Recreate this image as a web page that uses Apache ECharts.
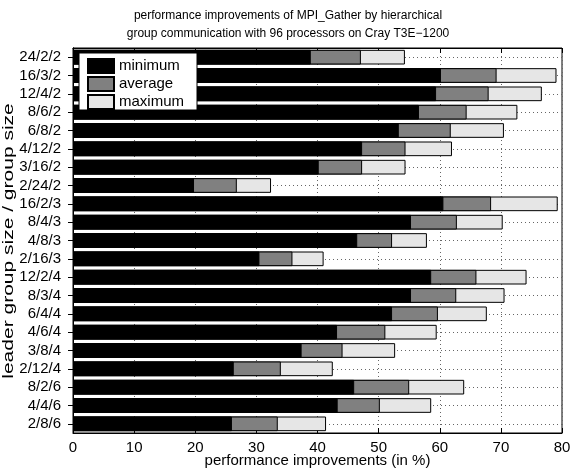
<!DOCTYPE html>
<html>
<head>
<meta charset="utf-8">
<script src="https://cdn.jsdelivr.net/npm/echarts@6/dist/echarts.min.js"></script>
<style>
  html, body { margin: 0; padding: 0; background: #fff; }
  #chart { width: 571px; height: 470px; }
</style>
</head>
<body>
<div id="chart"></div>
<script>
// leader count / leader group size / group size
const configs = ['24/2/2', '16/3/2', '12/4/2', '8/6/2', '6/8/2', '4/12/2', '3/16/2', '2/24/2',
  '16/2/3', '8/4/3', '4/8/3', '2/16/3', '12/2/4', '8/3/4', '6/4/4', '4/6/4', '3/8/4',
  '2/12/4', '8/2/6', '4/4/6', '2/8/6'];

// performance improvements in percent
const minimum = [38.9, 60.2, 59.4, 56.6, 53.3, 47.3, 40.2, 19.8, 60.6, 55.3, 46.5, 30.5,
  58.6, 55.3, 52.2, 43.2, 37.4, 26.3, 46.0, 43.3, 26.0];
const average = [47.1, 69.3, 68.0, 64.4, 61.8, 54.4, 47.3, 26.8, 68.4, 62.8, 52.2, 35.9,
  66.0, 62.7, 59.7, 51.1, 44.1, 34.0, 55.0, 50.2, 33.5];
const maximum = [54.3, 79.1, 76.7, 72.7, 70.5, 62.0, 54.4, 32.4, 79.3, 70.3, 57.9, 41.0,
  74.2, 70.6, 67.7, 59.5, 52.7, 42.5, 64.0, 58.6, 41.4];

const xTicks = { min: 0, max: 80, interval: 10 };

const FONT = '"Liberation Sans", Arial, Helvetica, sans-serif';
const dotted = { color: '#666', width: 1, type: [1, 3] };

const chart = echarts.init(document.getElementById('chart'), null, { renderer: 'canvas' });

function barSeries(name, values, color, extra) {
  return Object.assign({
    name: name,
    type: 'bar',
    data: values,
    barGap: '-100%',
    barCategoryGap: '20%',
    z: 2,
    itemStyle: { color: color, borderColor: '#000', borderWidth: 1 },
    emphasis: { disabled: true },
    animation: false
  }, extra || {});
}

// dotted horizontal guide through each category centre, kept behind the bars
const rowGuides = {
  silent: true,
  symbol: ['none', 'none'],
  z: 1,
  label: { show: false },
  lineStyle: dotted,
  emphasis: { disabled: true },
  animation: false,
  data: configs.map(c => ({ yAxis: c }))
};

chart.setOption({
  animation: false,
  textStyle: { fontFamily: FONT },
  title: {
    text: 'performance improvements of MPI_Gather by hierarchical\ngroup communication with 96 processors on Cray T3E\u22121200',
    left: 283,
    textAlign: 'center',
    top: 2,
    textStyle: { fontFamily: FONT, fontSize: 12, fontWeight: 'normal', color: '#000', lineHeight: 18 }
  },
  legend: {
    orient: 'vertical',
    left: 79,
    top: 53,
    data: ['minimum', 'average', 'maximum'],
    itemWidth: 26,
    itemHeight: 14,
    itemGap: 2,
    padding: [5, 13, 0, 8],
    backgroundColor: '#fff',
    borderColor: '#000',
    borderWidth: 1,
    borderRadius: 0,
    icon: 'rect',
    selectedMode: false,
    textStyle: { fontFamily: FONT, fontSize: 15, color: '#000' },
    z: 10
  },
  // vertical axis title, stretched along its reading direction
  graphic: [{
    type: 'text',
    x: 9,
    y: 241,
    rotation: Math.PI / 2,
    scaleX: 1.4,
    silent: true,
    style: {
      text: 'leader group size / group size',
      font: '15px ' + FONT,
      fill: '#000',
      textAlign: 'center',
      textVerticalAlign: 'middle'
    }
  }],
  grid: {
    left: 73,
    right: 9,
    top: 48,
    bottom: 37,
    containLabel: false,
    outerBoundsMode: 'none',
    show: true,
    borderColor: '#000',
    borderWidth: 1,
    backgroundColor: 'transparent'
  },
  xAxis: [
    {
      type: 'value',
      min: xTicks.min,
      max: xTicks.max,
      interval: xTicks.interval,
      name: 'performance improvements (in %)',
      nameLocation: 'middle',
      nameGap: 20,
      nameMoveOverlap: false,
      nameTextStyle: { fontFamily: FONT, fontSize: 15, color: '#000' },
      axisLine: { show: true, lineStyle: { color: '#000', width: 1 } },
      axisTick: { show: true, inside: true, length: 5, lineStyle: { color: '#000' } },
      axisLabel: { fontFamily: FONT, fontSize: 15, color: '#000', margin: 7 },
      splitLine: { show: true, lineStyle: dotted }
    },
    {
      type: 'value',
      position: 'top',
      min: xTicks.min,
      max: xTicks.max,
      interval: xTicks.interval,
      axisLine: { show: true, lineStyle: { color: '#000', width: 1 } },
      axisTick: { show: true, inside: true, length: 5, lineStyle: { color: '#000' } },
      axisLabel: { show: false },
      splitLine: { show: false }
    }
  ],
  yAxis: [
    {
      type: 'category',
      data: configs,
      inverse: true,
      axisLine: { show: true, lineStyle: { color: '#000', width: 1 } },
      axisTick: { show: false },
      axisLabel: { fontFamily: FONT, fontSize: 15, color: '#000', margin: 12, interval: 0 },
      splitLine: { show: false }
    },
    {
      type: 'category',
      data: configs,
      inverse: true,
      position: 'right',
      axisLine: { show: true, lineStyle: { color: '#000', width: 1 } },
      axisTick: { show: true, inside: true, length: 5, alignWithLabel: true, interval: 0, lineStyle: { color: '#000' } },
      axisLabel: { show: false },
      splitLine: { show: false }
    }
  ],
  series: [
    barSeries('maximum', maximum, '#e6e6e6', { markLine: rowGuides }),
    barSeries('average', average, '#808080'),
    barSeries('minimum', minimum, '#000000')
  ]
});
</script>
</body>
</html>
